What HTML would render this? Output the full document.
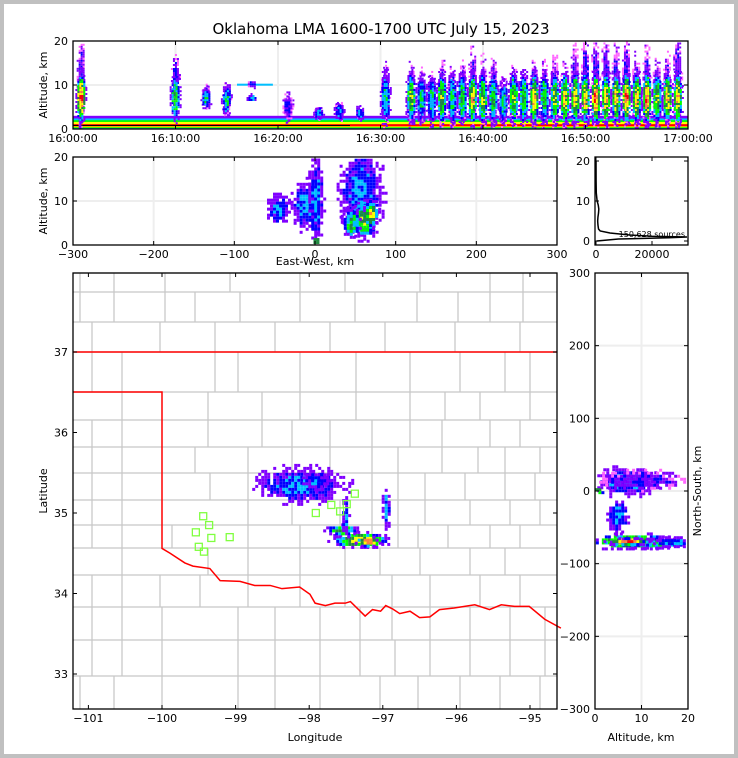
<!DOCTYPE html>
<html><head><meta charset="utf-8"><style>
body{margin:0;background:#c0c0c0;}
#wrap{position:absolute;left:4px;top:4px;width:730px;height:750px;background:#fff;}
svg{position:absolute;left:0;top:0;}
text{font-family:"DejaVu Sans","Liberation Sans",sans-serif;fill:#000;}
</style></head><body>
<div id="wrap"></div>
<svg id="s" width="738" height="758">
<text x="381" y="34" font-size="15" text-anchor="middle">Oklahoma LMA 1600-1700 UTC July 15, 2023</text>
</svg>
<script>
// ---------- data ----------
const levelColors=['#ff66ff','#8000ff','#0000ff','#00c0ff','#00ff00','#208a40','#ffff00','#ff8040','#ff0000'];
// top panel: storm columns (minute after 16:00, top altitude km, base km, peak density level)
const colMinutes=[0.8,10,13,15,17.5,21,24,26,28,30.5,33,34,35,36,37,38,39,40,41,42,43,44,45,46,47,48,49,50,51,52,53,54,55,56,57,58,59];
const colTops=[20,16,10,10,11,8,5,6,5,14,14,13,12,15,13,14,17,16,15,11,14,13,15,14,16,14,18,20,20,20,18,19,16,18,15,16,20];
const colBases=[0,6,5,3,9,2,2,2,2,1,1,2,1,1,1,2,1,1,1,1,1,1,1,1,1,1,1,1,1,1,1,1,1,1,1,1,1];
const colLevels=[8,5,4,4,3,2,3,3,3,4,6,4,4,6,4,5,7,6,5,4,6,5,7,5,6,7,7,7,8,7,7,8,7,8,6,7,7];
// middle panel blobs: east-west km, altitude km, half-width, half-height, level
const ewX=[-45,-12,2,58,62,70,2,45];
const ewAlt=[8,9,10,12,6,7,1,5];
const ewW=[14,14,8,24,16,8,3,10];
const ewH=[3,5,9,9,4,3,1.5,3];
const ewLev=[3,3,3,3,6,7,8,5];
// histogram: altitude vs source count
const histAlt=[0,0.5,0.8,1,1.2,1.5,2,2.5,3,4,5,6,7,8,9,10,12,15,20];
const histCount=[300,8000,26000,33000,20000,12000,5000,1500,900,700,600,700,900,1000,800,400,100,30,10];
// map blobs: lon, lat, rx deg, ry deg, level
const mapLon=[-98.1,-97.9,-97.3,-97.55,-96.95,-97.2,-97.5];
const mapLat=[35.35,35.4,34.66,34.78,35.05,34.64,34.95];
const mapRx=[0.55,0.15,0.35,0.2,0.05,0.14,0.04];
const mapRy=[0.2,0.1,0.09,0.07,0.25,0.06,0.2];
const mapLev=[3,3,7,5,3,8,3];
// stations
const stLon=[-99.44,-99.36,-99.54,-99.33,-99.08,-99.50,-99.43,-97.91,-97.70,-97.49,-97.38,-97.58];
const stLat=[34.96,34.85,34.76,34.69,34.70,34.58,34.52,35.0,35.10,35.11,35.24,35.02];
// right panel blobs: altitude km, north-south km, half-w, half-h, level
const nsAlt=[8,13,7,1,5,10,17,7];
const nsY=[-70,-72,12,0,-35,15,-70,-70];
const nsW=[8,8,6,1.2,2,8,4,4];
const nsH=[10,6,18,3,20,12,6,5];
const nsLev=[7,4,3,8,3,2,3,8];
// Red River (state boundary) lon/lat
const rrLon=[-100,-99.89,-99.69,-99.58,-99.35,-99.21,-98.94,-98.74,-98.53,-98.37,-98.13,-97.99,-97.92,-97.78,-97.65,-97.51,-97.44,-97.24,-97.14,-97.03,-96.96,-96.87,-96.77,-96.63,-96.50,-96.36,-96.23,-96.03,-95.75,-95.55,-95.39,-95.21,-95.01,-94.8,-94.58];
const rrLat=[34.56,34.50,34.38,34.34,34.31,34.16,34.15,34.10,34.10,34.06,34.08,33.99,33.88,33.85,33.88,33.88,33.90,33.72,33.80,33.78,33.85,33.81,33.75,33.78,33.70,33.71,33.80,33.82,33.86,33.80,33.86,33.84,33.84,33.68,33.57];
</script>
<script>
const S=document.getElementById('s');const NS='http://www.w3.org/2000/svg';
function el(t,a,p){const e=document.createElementNS(NS,t);for(const k in a)e.setAttribute(k,a[k]);(p||S).appendChild(e);return e;}
function txt(x,y,s,anchor,size,rot){const e=el('text',{x:x,y:y,'font-size':size||11,'text-anchor':anchor||'middle'});if(rot)e.setAttribute('transform','rotate(-90 '+x+' '+y+')');e.textContent=s;return e;}
function lin(d0,d1,r0,r1){return v=>r0+(v-d0)*(r1-r0)/(d1-d0);}
function frame(x0,y0,x1,y1,name){const r=el('rect',{x:x0,y:y0,width:x1-x0,height:y1-y0,fill:'none',stroke:'#000','stroke-width':1.3});}
function grid(x0,y0,x1,y1,xs,ys){xs.forEach(x=>el('line',{x1:x,x2:x,y1:y0,y2:y1,stroke:'#eee','stroke-width':2}));ys.forEach(y=>el('line',{x1:x0,x2:x1,y1:y,y2:y,stroke:'#eee','stroke-width':2}));}
function hash(i,j){let h=(i*73856093)^(j*19349663);h=(h^(h>>>13))*1274126177;return ((h^(h>>>16))>>>0)%100;}
// speckled density blob made of small cells
function blob(cx,cy,rx,ry,lev,name,cw,ch,clip){cw=cw||3;ch=ch||3;
 const g=el('g',{});
 for(let x=cx-rx*1.3;x<cx+rx*1.3;x+=cw)for(let y=cy-ry*1.3;y<cy+ry*1.3;y+=ch){
  if(clip&&(x<clip[0]||x>clip[2]-cw||y<clip[1]||y>clip[3]-ch))continue;
  const dx=(x+cw/2-cx)/rx,dy=(y+ch/2-cy)/ry,d=Math.sqrt(dx*dx+dy*dy);if(d>1.3)continue;
  const hv=hash(Math.round(x*7+cx),Math.round(y*5+cy));
  if(d>0.7&&hv<(d-0.7)*130)continue;
  let l=Math.round(lev*Math.pow(Math.max(0,1-d),0.45)+(hv%3-1)*0.6);l=Math.max(lev>2?1:0,Math.min(lev,l));
  el('rect',{x:x,y:y,width:cw,height:ch,fill:levelColors[l]},g);}}
function ticksX(xsc,vals,labels,y0,y1,ty){vals.forEach((v,i)=>{el('line',{x1:xsc(v),x2:xsc(v),y1:y1,y2:y1-4,stroke:'#000'});el('line',{x1:xsc(v),x2:xsc(v),y1:y0,y2:y0+4,stroke:'#000'});const t=txt(xsc(v),ty,labels[i]);});}
function ticksY(ysc,vals,labels,x0,x1,tx){vals.forEach((v,i)=>{el('line',{x1:x0,x2:x0+4,y1:ysc(v),y2:ysc(v),stroke:'#000'});el('line',{x1:x1,x2:x1-4,y1:ysc(v),y2:ysc(v),stroke:'#000'});const t=txt(tx,ysc(v)+4,labels[i],'end');});}

// ---------- top panel ----------
{const X=lin(0,60,73,688),Y=lin(0,20,129,41);const clip=[73,41,688,129];
grid(73,41,688,129,[10,20,30,40,50].map(X),[Y(10)]);
[[0,3,1],[0,2.4,3],[0.2,2,4],[0.4,1.6,6],[0.6,1.1,8]].forEach(b=>{const r=el('rect',{x:73,y:Y(b[1]),width:615,height:Y(b[0])-Y(b[1]),fill:levelColors[b[2]]});});
el('line',{x1:73,x2:350,y1:Y(0.8),y2:Y(0.8),stroke:'#000','stroke-width':1});
const h=el('rect',{x:X(16),y:Y(10.3),width:X(19.5)-X(16),height:2,fill:levelColors[3]});
colMinutes.forEach((m,i)=>{const top=colTops[i],base=colBases[i],lv=colLevels[i];
 blob(X(m),Y((base+top)/2),3.5,(Y(base)-Y(top))/2,2,'source-column',2,2,clip);
 const core=Math.min(7,(base+top)/2);
 blob(X(m),Y(core),4.5,Math.min(24,(Y(base)-Y(top))/2.2),lv,'source-column-core',2,2,clip);});
frame(73,41,688,129,'time-height-panel');
ticksX(X,[0,10,20,30,40,50,60],['16:00:00','16:10:00','16:20:00','16:30:00','16:40:00','16:50:00','17:00:00'],41,129,142);
ticksY(Y,[0,10,20],['0','10','20'],73,688,68);
const t=txt(47,85,'Altitude, km','middle',11,true);}

// ---------- middle panel ----------
{const X=lin(-300,300,73,557),Y=lin(0,20,245,157);
grid(73,157,557,245,[-200,-100,0,100,200].map(X),[Y(10)]);
ewX.forEach((v,i)=>blob(X(v),Y(ewAlt[i]),ewW[i]*0.807,ewH[i]*4.4,ewLev[i],'ew-density-blob',3,3,[73,157,557,245]));
frame(73,157,557,245,'east-west-panel');
ticksX(X,[-300,-200,-100,0,100,200,300],['\u2212300','\u2212200','\u2212100','0','100','200','300'],157,245,258);
ticksY(Y,[0,10,20],['0','10','20'],73,557,68);
let t=txt(47,201,'Altitude, km','middle',11,true);
t=txt(315,265,'East-West, km');}

// ---------- histogram ----------
{const X=lin(0,20000,596,652),Y=lin(0,20,241,161);
const p=el('polyline',{points:histAlt.map((a,i)=>Math.min(X(histCount[i]),687)+','+Y(a)).join(' '),fill:'none',stroke:'#000','stroke-width':1.5});
frame(595,157,688,245,'histogram-panel');
ticksX(X,[0,20000],['0','20000'],157,245,258);
ticksY(Y,[0,10,20],['0','10','20'],595,688,590);
const t=txt(685,237,'150,628 sources','end',8);}

// ---------- map ----------
{const X=lin(-100,-99,162,235.6),Y=lin(37,36,352,432.5);
const g=el('g',{stroke:'#c8c8c8','stroke-width':1.3,fill:'none'});
const rows=[[273,292,[80,114,165,230,300,345,420,490,523]],[292,322,[80,114,165,195,240,300,355,417,458,490,523]],[322,352,[92,160,215,275,330,385,455,520]],[352,392,[92,122,215,238,300,356,410,460,505,530]],[392,420,[122,208,262,300,356,410,445,480,530]],[420,447,[92,122,208,262,292,330,372,410,442,490,520]],[447,473,[92,122,195,248,292,330,372,398,442,478,505,540]],[473,500,[92,122,210,248,292,330,372,398,425,465,505,535]],[500,525,[92,122,248,292,340,372,398,425,470,510,540]],[525,548,[92,122,172,248,300,340,372,398,418,448,490,520]],[548,575,[122,208,248,300,345,380,420,470,505]],[575,607,[92,122,160,200,248,300,345,392,430,480,520]],[607,640,[92,122,162,238,275,320,360,392,430,470,510,545]],[640,676,[92,122,162,238,275,320,360,395,430,470,510,545]],[676,709,[80,114,162,238,275,320,380,418,460,500,540]]];
rows.forEach(r=>{el('line',{x1:73,x2:557,y1:r[0],y2:r[0]},g);r[2].forEach(x=>el('line',{x1:x,x2:x,y1:r[0],y2:r[1]},g));});
mapLon.forEach((v,i)=>blob(X(v),Y(mapLat[i]),mapRx[i]*73.6,mapRy[i]*80.5,mapLev[i],'map-density-blob',3,3));
stLon.forEach((v,i)=>{const r=el('rect',{x:X(v)-3.5,y:Y(stLat[i])-3.5,width:7,height:7,fill:'none',stroke:'#80ff40','stroke-width':1.3});});
const b=el('polyline',{points:'73,352 557,352',stroke:'#f00','stroke-width':1.5,fill:'none'});
const rr=el('polyline',{points:'73,392 162,392 162,545 '+rrLon.map((v,i)=>X(v)+','+Y(rrLat[i])).join(' '),stroke:'#f00','stroke-width':1.5,fill:'none'});
frame(73,273,557,709,'map-panel');
ticksX(X,[-101,-100,-99,-98,-97,-96,-95],['\u2212101','\u2212100','\u221299','\u221298','\u221297','\u221296','\u221295'],273,709,722);
ticksY(Y,[37,36,35,34,33],['37','36','35','34','33'],73,557,68);
let t=txt(47,491,'Latitude','middle',11,true);
t=txt(315,741,'Longitude');}

// ---------- right panel ----------
{const X=lin(0,20,595,688),Y=lin(300,-300,273,709);
grid(595,273,688,709,[X(10)],[-200,-100,0,100,200].map(Y));
nsAlt.forEach((v,i)=>blob(X(v),Y(nsY[i]),nsW[i]*4.65,nsH[i]*0.727,nsLev[i],'ns-density-blob',3,3,[595,273,688,709]));
frame(595,273,688,709,'north-south-panel');
ticksX(X,[0,10,20],['0','10','20'],273,709,722);
ticksY(Y,[300,200,100,0,-100,-200,-300],['300','200','100','0','\u2212100','\u2212200','\u2212300'],595,688,590);
let t=txt(701,491,'North-South, km','middle',11,true);
t=txt(641,741,'Altitude, km');}
</script>
</body></html>
